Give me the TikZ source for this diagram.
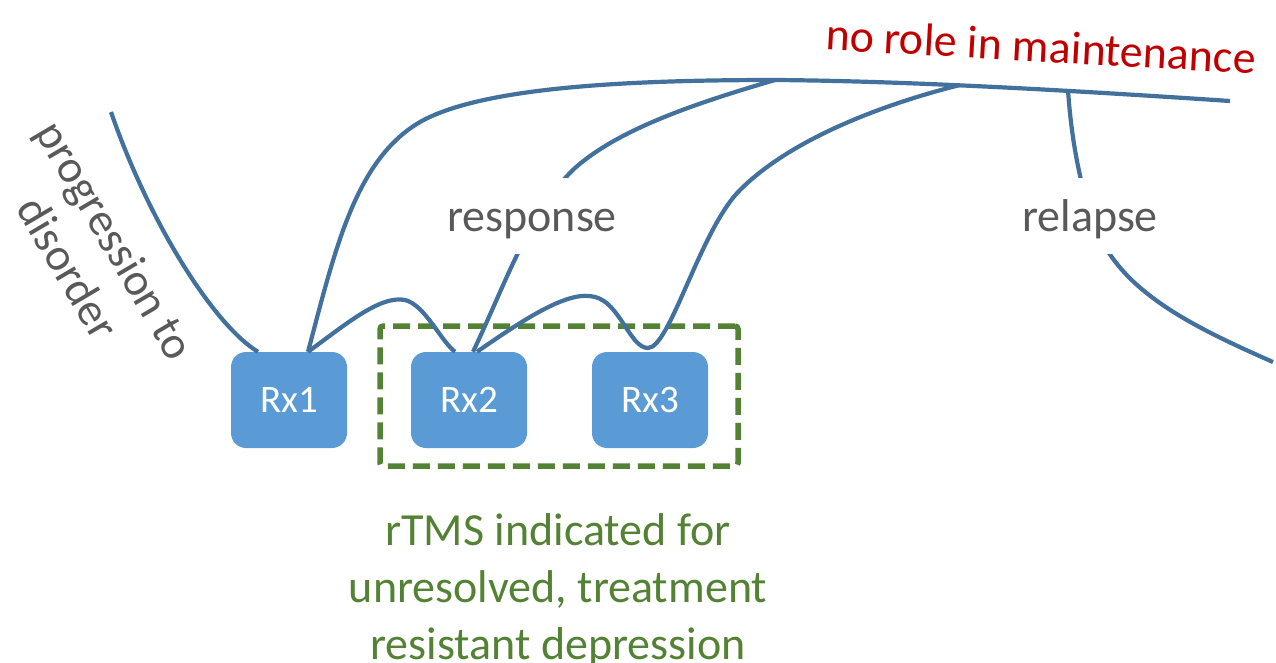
\documentclass[tikz,border=0pt]{standalone}
\usepackage{fontspec}
\setmainfont{Carlito}
\definecolor{curve}{RGB}{65,113,156}
\definecolor{boxblue}{RGB}{91,155,213}
\definecolor{dgreen}{RGB}{84,130,53}
\definecolor{dred}{RGB}{192,0,0}
\definecolor{tgray}{RGB}{89,89,89}
\begin{document}
\begin{tikzpicture}[x=1pt,y=-1pt,
  rx/.style={fill=boxblue, rounded corners=15pt, minimum width=116pt, minimum height=96pt, text=white, font=\fontsize{39}{45}\selectfont, inner sep=0pt},
  link/.style={draw=curve, line width=4.2pt},
  lbl/.style={text=tgray, font=\fontsize{46}{55}\selectfont},
  gapbox/.style={fill=white, minimum height=75pt, inner sep=0pt},
  dashframe/.style={draw=dgreen, line width=5.5pt, dash pattern=on 17pt off 8pt, rounded corners=3pt, minimum width=358pt, minimum height=140pt, inner sep=0pt}]
\useasboundingbox (0,0) rectangle (1276,663);

\node[rx] (Rx1) at (289,400) {Rx1};
\node[rx] (Rx2) at (469,400) {Rx2};
\node[rx] (Rx3) at (650,400) {Rx3};
\node[dashframe] (frame) at (559,396) {};

\coordinate (prog) at (111,112);
\coordinate (top) at (775,80);
\coordinate (mid) at (960,85);
\coordinate (endtop) at (1230,101);
\coordinate (rel) at (1068,90);
\coordinate (relend) at (1273,362);

% progression to disorder
\draw[link] (prog) .. controls (150,225) and (215,326) .. ([xshift=-31pt]Rx1.north);
% main line
\draw[link] ([xshift=19pt]Rx1.north) .. controls (335,250) and (355,160) .. (420,122)
  .. controls (480,88) and (620,80) .. (top) .. controls (900,81) and (1050,89) .. (endtop);
% wave Rx1 -> Rx2
\draw[link] ([xshift=19pt]Rx1.north) .. controls (345,325) and (380,295) .. (405,300)
  .. controls (425,305) and (440,340) .. ([xshift=-14pt]Rx2.north);
% response from Rx2
\draw[link] ([xshift=4pt]Rx2.north) .. controls (505,285) and (530,210) .. (575,168)
  .. controls (620,128) and (700,102) .. (top);
% wave Rx2 -> Rx3 -> response
\draw[link] ([xshift=8pt]Rx2.north) .. controls (530,315) and (570,290) .. (595,297)
  .. controls (620,303) and (630,348) .. (648,348)
  .. controls (670,348) and (700,230) .. (740,190)
  .. controls (790,140) and (880,105) .. (mid);
% relapse
\draw[link] (rel) .. controls (1072,150) and (1085,215) .. (1109,253)
  .. controls (1140,300) and (1200,330) .. (relend);

\node[gapbox, minimum width=190pt] (responsegap) at (532,216) {};
\node[gapbox, minimum width=150pt] (relapsegap) at (1090,216) {};
\node[lbl, anchor=base, inner sep=0pt] (response) at (532,231) {response};
\node[lbl, anchor=base, inner sep=0pt] (relapse) at (1090,231) {relapse};

\node[text=dred, font=\fontsize{46}{55}\selectfont, rotate=-3.2] (norole) at (1041,46) {no role in maintenance};
\node[lbl, align=center, rotate=-59.5] (progtext) at (92,254) {progression to\\disorder};
\node[text=dgreen, font=\fontsize{46}{57}\selectfont, align=center] (rtmstext) at (558,590) {rTMS indicated for\\unresolved, treatment\\resistant depression};
\end{tikzpicture}
\end{document}
